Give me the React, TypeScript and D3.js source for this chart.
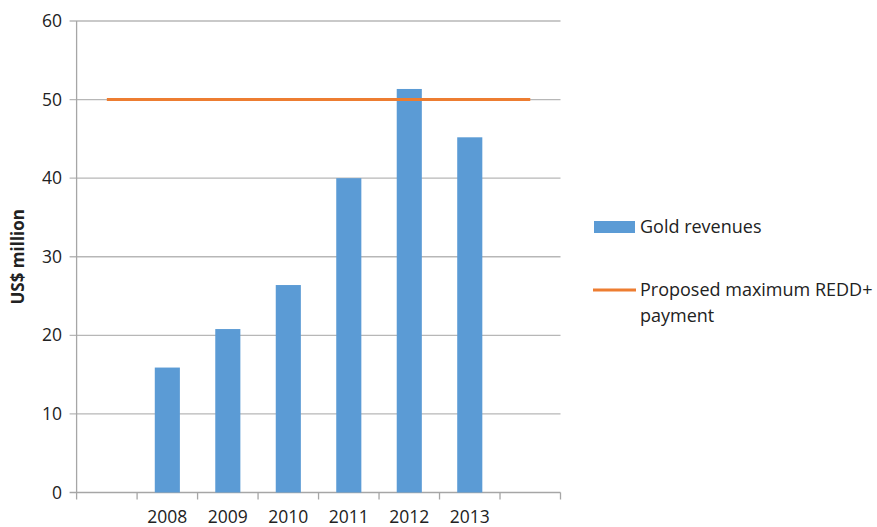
import React from "react";
import * as d3 from "d3";

const categories = ["", "2008", "2009", "2010", "2011", "2012", "2013", ""];
const goldRevenues: (number | null)[] = [null, 15.9, 20.8, 26.4, 40.0, 51.35, 45.2, null];
const reddPayment = [50, 50, 50, 50, 50, 50, 50, 50];
const yTicks = [0, 10, 20, 30, 40, 50, 60];

const W = 877, H = 527;
const left = 76.6, right = 560.5, top = 21, bottom = 492.5;
const font = "'Open Sans', sans-serif";

export default function App() {
  const x = d3.scaleBand<number>().domain(categories.map((_, i) => i)).range([left, right]).paddingInner(0).paddingOuter(0);
  const y = d3.scaleLinear().domain([0, 60]).range([bottom, top]);
  const step = x.step();
  const barW = step * 0.415;
  const cx = (i: number) => (x(i) as number) + step / 2;
  const line = d3.line<number>().x((_, i) => cx(i)).y((d) => y(d));

  return (
    <svg width={W} height={H} style={{ position: "absolute", left: 0, top: 0, background: "#fff" }}>
      {yTicks.map((t) => (
        <g key={t}>
          <line x1={left - 7} x2={right} y1={y(t)} y2={y(t)} stroke={t === 0 ? "#a6a6a6" : "#b7b7b7"} strokeWidth={1.3} />
          <text x={62} y={y(t)} dy="0.35em" textAnchor="end" fontFamily={font} fontSize={17.5} fill="#222">{t}</text>
        </g>
      ))}
      <line x1={left} x2={left} y1={top} y2={bottom} stroke="#a6a6a6" strokeWidth={1.3} />
      {categories.map((_, i) => (
        <line key={"t" + i} x1={x(i) as number} x2={x(i) as number} y1={bottom} y2={bottom + 7} stroke="#a6a6a6" strokeWidth={1.3} />
      ))}
      <line x1={right} x2={right} y1={bottom} y2={bottom + 7} stroke="#a6a6a6" strokeWidth={1.3} />
      {goldRevenues.map((v, i) =>
        v == null ? null : (
          <rect key={"b" + i} x={cx(i) - barW / 2} y={y(v)} width={barW} height={y(0) - y(v)} fill="#5B9BD5" />
        )
      )}
      <path d={line(reddPayment) || ""} fill="none" stroke="#ED7D31" strokeWidth={3} />
      {categories.map((c, i) => (
        <text key={"l" + i} x={cx(i)} y={517} dy="0.35em" textAnchor="middle" fontFamily={font} fontSize={17.5} fill="#222">{c}</text>
      ))}
      <text transform={`translate(18,${(top + bottom) / 2}) rotate(-90)`} textAnchor="middle" dy="0.35em" fontFamily={font} fontSize={17} fontWeight="bold" fill="#222">US$ million</text>
      <rect x={594} y={221} width={41} height={12} fill="#5B9BD5" />
      <text x={640} y={226.5} dy="0.35em" fontFamily={font} fontSize={18} fill="#222">Gold revenues</text>
      <line x1={593} x2={636} y1={290} y2={290} stroke="#ED7D31" strokeWidth={3} />
      <text x={640} y={290} dy="0.35em" fontFamily={font} fontSize={18} fill="#222">Proposed maximum REDD+</text>
      <text x={640} y={316} dy="0.35em" fontFamily={font} fontSize={18} fill="#222">payment</text>
    </svg>
  );
}
